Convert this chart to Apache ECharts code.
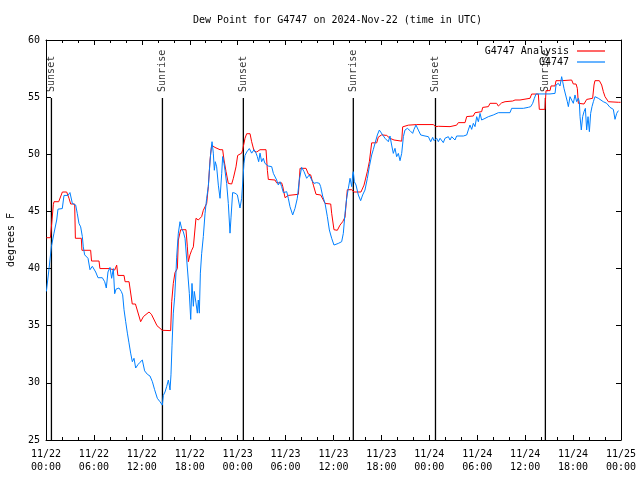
<!DOCTYPE html>
<html><head><meta charset="utf-8">
<script src="https://cdn.jsdelivr.net/npm/echarts/dist/echarts.min.js"></script>
<style>html,body{margin:0;padding:0;background:#fff}#c{width:640px;height:480px}</style>
</head><body><div id="c"></div>
<script>
const xTickLabels = ['11/22\n00:00','11/22\n06:00','11/22\n12:00','11/22\n18:00','11/23\n00:00','11/23\n06:00','11/23\n12:00','11/23\n18:00','11/24\n00:00','11/24\n06:00','11/24\n12:00','11/24\n18:00','11/25\n00:00'];
const sunHours = [0.68, 14.58, 24.71, 38.48, 48.77, 62.53];
const sunLabels = ['Sunset','Sunrise','Sunset','Sunrise','Sunset','Sunrise'];
const sunLineTop = 54.93;

// hours since 11/22 00:00 UTC
const redHours = [0.05,0.55,0.62,0.92,1.0,1.59,2.05,2.59,2.88,3.09,3.59,3.68,4.42,4.5,5.59,5.7,6.64,6.75,7.89,8.1,8.6,8.85,9.0,9.77,9.9,10.4,10.8,11.2,11.85,12.2,12.9,13.2,13.9,14.56,15.61,15.74,15.94,16.15,16.45,16.57,16.86,17.53,17.7,17.82,18.03,18.24,18.45,18.78,19.07,19.49,19.7,19.91,20.12,20.33,20.54,20.74,20.95,21.16,21.79,22.12,22.29,22.54,22.83,23.25,23.46,23.79,24.0,24.5,24.63,24.92,25.13,25.55,25.75,26.05,26.38,26.8,27.55,27.72,27.84,28.67,28.88,29.51,29.64,29.93,30.34,31.6,31.81,32.56,32.85,33.14,33.48,33.81,34.39,34.73,34.94,35.65,35.77,36.06,36.48,36.81,37.15,37.44,37.73,38.28,38.57,39.44,39.82,40.24,40.49,40.78,41.41,41.61,42.03,42.66,43.07,43.58,44.54,44.66,45.37,46.41,48.5,48.79,49.13,50.59,51.42,51.63,52.47,52.68,53.51,53.72,54.55,54.68,55.39,55.6,56.43,56.64,57.06,57.48,58.44,58.73,59.35,59.56,60.61,60.81,61.65,61.77,62.48,62.61,63.11,63.24,63.74,63.86,64.57,64.78,65.82,66.03,66.37,66.53,66.66,67.37,67.7,68.45,68.62,68.74,69.29,69.58,69.79,70.0,70.42,71.67,71.95];
const redValues = [42.7,42.7,43.2,45.6,45.85,45.85,46.7,46.7,46.15,45.65,45.65,42.65,42.65,41.6,41.6,40.66,40.66,40.0,40.0,39.87,39.87,40.3,39.4,39.4,38.85,38.85,36.9,36.9,35.35,35.8,36.2,36.0,35.0,34.6,34.57,37.1,38.7,39.64,40.0,42.5,43.4,43.4,41.9,40.6,41.2,41.6,41.9,44.4,44.25,44.55,45.1,45.1,45.7,47.2,49.5,50.8,50.8,50.6,50.4,50.4,49.5,48.5,47.45,47.4,47.9,48.9,49.9,50.1,50.4,51.4,51.8,51.8,51.1,50.3,50.2,50.4,50.4,48.6,47.8,47.75,47.5,47.5,47.2,46.2,46.4,46.5,48.77,48.77,48.27,48.2,47.3,46.5,46.44,46.0,45.7,45.65,44.84,43.4,43.35,43.8,44.1,44.5,46.9,46.9,46.7,46.7,47.3,48.5,49.35,51.0,51.0,51.5,51.7,51.65,51.4,51.25,51.15,52.4,52.55,52.6,52.6,52.42,52.45,52.42,52.55,52.77,52.77,53.3,53.35,53.64,53.73,54.1,54.17,54.46,54.46,54.22,54.5,54.6,54.66,54.75,54.75,54.9,54.9,55.27,55.27,53.93,53.93,55.57,55.57,55.98,55.98,56.44,56.44,56.5,56.5,56.15,56.15,55.77,54.46,54.4,54.8,54.9,56.06,56.44,56.44,56.06,55.48,55.04,54.6,54.55,54.55];

const blueHours = [0.05,0.38,0.67,1.0,1.34,1.5,2.04,2.25,2.46,2.75,3.0,3.3,3.72,3.92,4.13,4.34,4.55,4.67,4.84,5.26,5.51,5.8,6.22,6.51,7.05,7.35,7.55,7.76,8.01,8.22,8.43,8.6,8.77,9.14,9.43,9.6,9.77,9.98,10.19,10.39,10.6,10.81,11.02,11.23,11.52,11.77,12.06,12.35,12.69,13.02,13.32,13.6,13.94,14.27,14.57,14.69,14.9,15.11,15.32,15.44,15.53,15.65,15.78,15.94,16.11,16.28,16.36,16.57,16.78,16.99,17.2,17.41,17.61,17.74,17.95,18.12,18.28,18.45,18.57,18.78,18.95,19.07,19.2,19.33,19.49,19.7,19.91,20.12,20.33,20.45,20.62,20.79,20.87,20.95,21.08,21.2,21.37,21.58,21.79,22.0,22.12,22.29,22.41,22.62,22.83,23.04,23.17,23.37,23.67,23.96,24.13,24.29,24.5,24.71,24.79,24.92,25.13,25.46,25.75,26.05,26.3,26.46,26.63,26.8,27.0,27.21,27.42,27.63,27.84,28.05,28.26,28.47,28.68,28.88,29.09,29.3,29.51,29.72,30.14,30.34,30.55,30.89,31.18,31.47,31.72,32.01,32.31,32.64,32.97,33.27,33.56,33.89,34.23,34.39,34.64,34.94,35.23,35.48,35.77,36.06,36.31,36.6,37.02,37.23,37.44,37.65,37.86,38.07,38.28,38.4,38.48,38.61,38.82,39.11,39.4,39.65,39.94,40.24,40.49,40.78,40.99,41.2,41.49,41.74,41.91,42.16,42.45,42.66,42.87,43.07,43.28,43.49,43.7,43.91,44.12,44.33,44.54,44.75,44.95,45.25,45.58,45.91,46.08,46.33,46.62,46.92,47.46,47.88,48.17,48.42,48.58,48.92,49.13,49.34,49.54,49.75,49.96,50.17,50.38,50.59,50.8,51.0,51.21,51.42,52.26,52.68,52.88,53.09,53.3,53.51,53.72,53.93,54.14,54.35,54.55,54.76,54.97,55.39,55.6,56.01,56.64,58.1,58.31,59.77,60.4,60.69,60.94,61.15,61.36,61.52,61.86,63.11,63.74,63.86,64.15,64.36,64.57,64.7,64.86,65.11,65.28,65.41,65.61,65.82,66.03,66.24,66.45,66.66,66.78,66.87,67.03,67.2,67.37,67.54,67.7,67.87,68.04,68.2,68.37,68.54,68.74,68.95,69.16,69.37,69.79,70.21,70.62,71.04,71.25,71.46,71.67];
const blueValues = [38.0,40.0,41.9,43.1,44.25,45.2,45.25,46.4,46.55,46.4,46.65,45.7,45.55,44.8,43.95,43.65,42.8,41.9,41.2,40.9,39.9,40.2,39.7,39.2,39.2,38.85,38.3,39.7,40.1,39.15,40.0,37.8,38.2,38.3,38.0,37.7,36.4,35.35,34.35,33.5,32.6,31.85,32.15,31.3,31.6,31.8,32.0,31.05,30.75,30.6,30.1,29.4,28.65,28.35,28.05,28.9,29.2,29.67,30.25,29.8,29.38,30.7,33.3,36.1,37.5,39.7,41.0,43.1,44.1,43.5,43.2,42.65,42.5,39.7,37.8,35.55,38.7,36.7,38.0,37.0,36.1,37.25,36.1,39.6,41.3,42.8,44.8,46.15,47.2,48.5,50.1,51.1,51.25,50.1,48.6,49.35,48.9,47.3,46.15,48.3,49.8,49.2,48.6,47.45,45.7,43.1,44.5,46.65,46.6,46.45,46.5,45.3,46.15,46.3,49.2,49.9,50.2,50.5,50.1,50.4,50.1,49.8,49.35,50.1,49.35,49.65,49.2,49.27,48.97,49.06,48.92,48.33,48.19,47.75,47.31,47.6,47.17,46.64,46.73,46.15,45.42,44.69,45.27,46.15,47.75,48.86,48.48,47.9,48.19,47.75,47.46,47.52,47.46,47.17,46.35,45.71,44.54,43.38,42.65,42.06,41.92,42.2,42.35,43.08,44.83,46.15,47.02,47.9,47.17,48.19,48.48,47.6,47.31,46.44,45.94,46.44,46.87,47.9,48.92,49.94,50.43,50.96,51.69,52.12,52.27,51.69,51.4,51.54,51.1,51.6,50.81,50.08,50.52,49.79,50.08,49.44,50.08,51.54,52.12,52.27,52.07,51.83,52.18,52.56,52.12,51.69,51.6,51.54,51.1,51.48,51.19,51.4,51.1,51.4,51.25,51.02,51.4,51.25,51.54,51.25,51.54,51.4,51.25,51.6,51.6,51.69,52.13,52.56,52.18,52.71,52.42,53.29,52.85,53.58,53.0,52.85,53.14,53.29,53.44,53.44,53.64,53.64,54.02,54.02,54.11,54.17,54.46,54.9,55.28,55.33,55.28,55.28,55.33,56.06,56.21,55.98,56.79,56.35,55.77,55.62,54.6,54.17,55.04,54.75,54.46,55.19,54.6,54.9,54.6,53.29,52.13,53.29,53.73,54.02,52.13,53.29,51.98,53.58,54.17,54.6,55.04,55.19,54.9,54.81,54.6,54.46,54.11,53.93,53.06,53.58,53.82];

const MONO = '"DejaVu Sans Mono", monospace';
const zip = (a, b) => a.map((h, i) => [h, b[i]]);

const chart = echarts.init(document.getElementById('c'), null, {renderer: 'canvas'});

const baseX = {
  type: 'value', min: 0, max: 72, interval: 6,
  axisLine: {show: true, onZero: false, lineStyle: {color: '#000', width: 1}},
  axisTick: {show: true, inside: true, length: 5, lineStyle: {color: '#000'}},
  minorTick: {show: true, splitNumber: 3, length: 3, lineStyle: {color: '#000'}},
  splitLine: {show: false}, minorSplitLine: {show: false}
};
const baseY = {
  type: 'value', min: 25, max: 60, interval: 5,
  axisLine: {show: true, onZero: false, lineStyle: {color: '#000', width: 1}},
  axisTick: {show: true, inside: true, length: 5, lineStyle: {color: '#000'}},
  splitLine: {show: false}
};

const sunLineSeries = sunHours.map(h => ({
  type: 'line', silent: true, symbol: 'none', z: 1,
  lineStyle: {color: '#000', width: 1.3},
  data: [[h, 25], [h, sunLineTop]],
  tooltip: {show: false}
}));

chart.setOption({
  animation: false,
  backgroundColor: '#fff',
  title: {
    text: 'Dew Point for G4747 on 2024-Nov-22 (time in UTC)',
    left: 188, top: 10,
    textStyle: {fontFamily: MONO, fontSize: 10, fontWeight: 'normal', color: '#000'}
  },
  legend: {
    data: [{name: 'G4747 Analysis', icon: 'rect'}, {name: 'G4747', icon: 'rect'}],
    orient: 'vertical', align: 'right', right: 30, top: 41,
    itemWidth: 28, itemHeight: 1.2, itemGap: 1,
    textStyle: {fontFamily: MONO, fontSize: 10, color: '#000', padding: [0, 3, 0, 0]}
  },
  grid: {left: 46, right: 19, top: 40, bottom: 40, containLabel: false, outerBoundsMode: 'none'},
  xAxis: [
    Object.assign({}, baseX, {
      position: 'bottom',
      axisLabel: {
        show: true, margin: 8, color: '#000', fontFamily: MONO, fontSize: 10, lineHeight: 13,
        formatter: v => xTickLabels[Math.round(v / 6)]
      }
    }),
    Object.assign({}, baseX, {position: 'top', axisLabel: {show: false}})
  ],
  yAxis: [
    Object.assign({}, baseY, {
      position: 'left',
      axisLabel: {show: true, margin: 6, color: '#000', fontFamily: MONO, fontSize: 10},
      name: 'degrees F', nameLocation: 'middle', nameGap: 30,
      nameTextStyle: {fontFamily: MONO, fontSize: 10, color: '#000'}
    }),
    Object.assign({}, baseY, {position: 'right', axisLabel: {show: false}})
  ],
  series: sunLineSeries.concat([
    {
      type: 'scatter', silent: true, symbolSize: 0, z: 1,
      data: sunHours.map(h => [h, sunLineTop]),
      label: {
        show: true, position: 'top', distance: 6, rotate: 90,
        align: 'left', verticalAlign: 'middle',
        fontFamily: MONO, fontSize: 10, color: '#000',
        formatter: p => sunLabels[p.dataIndex]
      }
    },
    {
      name: 'G4747 Analysis', type: 'line', symbol: 'none', z: 3,
      color: '#ff0000', lineStyle: {color: '#ff0000', width: 1},
      data: zip(redHours, redValues)
    },
    {
      name: 'G4747', type: 'line', symbol: 'none', z: 4,
      color: '#0080ff', lineStyle: {color: '#0080ff', width: 1},
      data: zip(blueHours, blueValues)
    }
  ])
});
</script>
</body></html>
